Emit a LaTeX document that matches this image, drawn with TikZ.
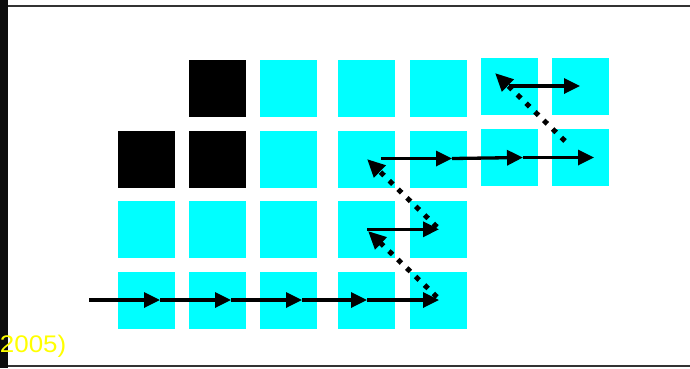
\documentclass[tikz,border=0pt]{standalone}
\usepackage{fontspec}
\setmainfont{Liberation Sans}
\usetikzlibrary{arrows.meta}
\definecolor{aqua}{HTML}{00FFFF}
\definecolor{yel}{HTML}{FFFF00}
\begin{document}
\begin{tikzpicture}[x=1pt,y=-1pt,
  sq/.style={minimum size=57pt,inner sep=0pt,outer sep=0pt,fill=aqua},
  bsq/.style={sq,fill=black},
  harrow/.style={line width=3.3pt,-{Triangle[length=16pt,width=15pt]}},
  darrow/.style={line width=5pt,dash pattern=on 5pt off 7.3pt,-{Triangle[length=18pt,width=16pt]}}]
\useasboundingbox (0,0) rectangle (690,368);
\fill[white] (0,0) rectangle (690,368);
% frame
\fill[black!95] (0,0) rectangle (8,368);
\draw[line width=2pt,black!80] (8,5.5) -- (690,5.5);
\draw[line width=2pt,black!80] (8,366) -- (690,366);
% squares
\node[bsq] (r1c2) at (217.5,88.5) {};
\node[sq]  (r1c3) at (288.5,88.5) {};
\node[sq]  (r1c4) at (366.5,88.5) {};
\node[sq]  (r1c5) at (438.5,88.5) {};
\node[sq]  (r1c6) at (509.5,86.5) {};
\node[sq]  (r1c7) at (580.5,86.5) {};
\node[bsq] (r2c1) at (146.5,159.5) {};
\node[bsq] (r2c2) at (217.5,159.5) {};
\node[sq]  (r2c3) at (288.5,159.5) {};
\node[sq]  (r2c4) at (366.5,159.5) {};
\node[sq]  (r2c5) at (438.5,159.5) {};
\node[sq]  (r2c6) at (509.5,157.5) {};
\node[sq]  (r2c7) at (580.5,157.5) {};
\node[sq]  (r3c1) at (146.5,229.5) {};
\node[sq]  (r3c2) at (217.5,229.5) {};
\node[sq]  (r3c3) at (288.5,229.5) {};
\node[sq]  (r3c4) at (366.5,229.5) {};
\node[sq]  (r3c5) at (438.5,229.5) {};
\node[sq]  (r4c1) at (146.5,300.5) {};
\node[sq]  (r4c2) at (217.5,300.5) {};
\node[sq]  (r4c3) at (288.5,300.5) {};
\node[sq]  (r4c4) at (366.5,300.5) {};
\node[sq]  (r4c5) at (438.5,300.5) {};
% path points
\coordinate (a0) at (89,300);
\coordinate (a1) at (160,300);
\coordinate (a2) at (231,300);
\coordinate (a3) at (302,300);
\coordinate (a4) at (367,300);
\coordinate (a5) at (439,300);
\coordinate (d1s) at (437,297);
\coordinate (d1e) at (368,231);
\coordinate (b0) at (367,229.3);
\coordinate (b1) at (439,229.3);
\coordinate (d2s) at (437,227);
\coordinate (d2e) at (367,159);
\coordinate (c0) at (381,158.5);
\coordinate (c1) at (452,158.5);
\coordinate (c2) at (523,157.5);
\coordinate (c3) at (594,157.5);
\coordinate (d3s) at (565,141);
\coordinate (d3e) at (495,73);
\coordinate (e0) at (509,86);
\coordinate (e1) at (580,86);
% arrows
\draw[harrow] (a0) -- (a1);
\draw[harrow] (a1) -- (a2);
\draw[harrow] (a2) -- (a3);
\draw[harrow] (a3) -- (a4);
\draw[harrow] (a4) -- (a5);
\draw[darrow] (d1s) -- (d1e);
\draw[harrow] (b0) -- (b1);
\draw[darrow] (d2s) -- (d2e);
\draw[harrow] (c0) -- (c1);
\draw[harrow] (c1) -- (c2);
\draw[harrow] (c2) -- (c3);
\draw[darrow] (d3s) -- (d3e);
\draw[harrow] (e0) -- (e1);
% text
\node[anchor=base east,inner sep=0pt,text=yel,xscale=1.08,font=\fontsize{24}{28}\selectfont] (lbl) at (66.5,352) {2005)};
\end{tikzpicture}
\end{document}
